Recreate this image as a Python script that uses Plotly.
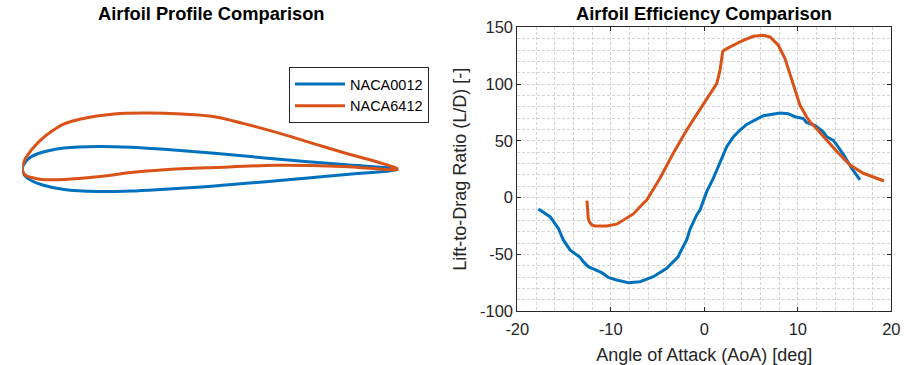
import plotly.graph_objects as go

# ---------------- data ----------------
# Airfoil profiles (chord-normalised): TE -> upper -> LE -> lower -> TE
naca0012_x = [1.0, 0.8533, 0.6757, 0.5112, 0.3779, 0.2891, 0.2, 0.1112, 0.0691, 0.0426, 0.0205, 0.0072, 0.0,
              0.0072, 0.025, 0.0516, 0.1112, 0.2, 0.2891, 0.3779, 0.5112, 0.6757, 0.8533, 1.0]
naca0012_y = [0.0, 0.0125, 0.0275, 0.0425, 0.053, 0.0585, 0.0605, 0.0565, 0.0492, 0.042, 0.0314, 0.0181, 0.0,
              -0.0173, -0.0306, -0.0412, -0.0539, -0.0592, -0.0578, -0.053, -0.0445, -0.0307, -0.0147, 0.0]

naca6412_x = [1.0, 0.9424, 0.8533, 0.7645, 0.6757, 0.5867, 0.5112, 0.4224, 0.3333, 0.2445, 0.1557, 0.1112,
              0.0691, 0.0516, 0.0338, 0.016, 0.0053, 0.0,
              0.0072, 0.025, 0.0516, 0.1112, 0.2, 0.2891, 0.3779, 0.5112, 0.6757, 0.8533, 1.0]
naca6412_y = [0.0, 0.02, 0.0448, 0.0715, 0.0981, 0.1221, 0.14, 0.1472, 0.1495, 0.1472, 0.1339, 0.1205,
              0.0945, 0.0803, 0.0625, 0.0404, 0.0226, 0.0,
              -0.0146, -0.0218, -0.0271, -0.0272, -0.02, -0.0085, -0.0013, 0.0048, 0.0105, 0.0075, 0.0]

# Lift-to-drag ratio vs angle of attack
aoa_0012 = [-17.75, -16.5, -15.61, -15.08, -14.36, -13.29, -12.94, -12.41, -10.97, -10.27, -9.37,
            -8.13, -6.88, -5.45, -4.02, -2.78, -2.6, -1.88, -1.53, -0.81, -0.46, 0.26, 0.96, 2.03,
            2.4, 3.1, 3.82, 4.53, 6.31, 8.1, 8.98, 9.7, 10.59, 10.95, 11.12, 11.66, 11.84, 12.56,
            12.73, 13.09, 13.8, 14.16, 14.87, 15.76, 16.65]
ld_0012 = [-9.9, -16.7, -26.9, -37.2, -46.0, -52.5, -56.3, -60.7, -66.0, -70.1, -72.4,
           -74.8, -73.9, -69.5, -62.1, -51.9, -48.4, -37.2, -27.8, -15.2, -10.8, 5.3, 17.0, 37.3,
           44.9, 53.5, 59.6, 64.5, 72.2, 74.5, 74.0, 71.3, 69.7, 66.0, 65.8, 64.0, 63.7, 59.0,
           57.8, 53.7, 50.5, 46.4, 38.2, 25.9, 15.6]

aoa_6412 = [-12.55, -12.41, -12.3, -12.04, -11.69, -10.8, -10.44, -9.37, -7.95, -7.59, -6.52, -6.16,
            -5.45, -4.74, -3.32, -1.88, -0.46, 0.96, 1.33, 1.68, 1.97, 2.4, 3.1, 3.64, 4.17, 5.24,
            6.31, 7.03, 7.91, 8.63, 9.17, 9.7, 10.05, 10.24, 10.95, 11.3, 11.84, 12.73, 13.09,
            14.3, 15.58, 17.01, 19.22]
ld_6412 = [-2.6, -18.1, -21.1, -24.0, -24.9, -24.9, -24.9, -23.3, -16.7, -14.3, -4.9, -2.0,
           7.5, 17.1, 39.1, 59.6, 77.7, 94.8, 100.4, 112.0, 128.8, 131.2, 134.2, 137.0, 138.6, 142.1,
           143.0, 141.5, 134.2, 122.4, 109.2, 94.5, 86.0, 81.3, 71.0, 66.9, 62.2, 53.7, 50.5,
           39.5, 28.8, 21.5, 14.7]

names = ["NACA0012", "NACA6412"]
colors = ["#0072BD", "#D95319"]

x_ticks = [-20, -10, 0, 10, 20]
x_ticktext = ["-20", "-10", "0", "10", "20"]
y_ticks = [-100, -50, 0, 50, 100, 150]
y_ticktext = ["-100", "-50", "0", "50", "100", "150"]

# ---------------- figure ----------------
W, H = 913, 365
FONT = "Liberation Sans, Arial, sans-serif"
TXT = "#262626"

fig = go.Figure()

fig.add_trace(go.Scatter(x=naca0012_x, y=naca0012_y, mode="lines", name=names[0],
                         line=dict(color=colors[0], width=3, shape="spline", smoothing=1.0),
                         xaxis="x", yaxis="y"))
fig.add_trace(go.Scatter(x=naca6412_x, y=naca6412_y, mode="lines", name=names[1],
                         line=dict(color=colors[1], width=3, shape="spline", smoothing=1.0),
                         xaxis="x", yaxis="y"))

fig.add_trace(go.Scatter(x=aoa_0012, y=ld_0012, mode="lines", name=names[0], showlegend=False,
                         line=dict(color=colors[0], width=3), xaxis="x2", yaxis="y2"))
fig.add_trace(go.Scatter(x=aoa_6412, y=ld_6412, mode="lines", name=names[1], showlegend=False,
                         line=dict(color=colors[1], width=3), xaxis="x2", yaxis="y2"))

yb = 1 - 311.3 / H
yt = 1 - 27.3 / H
half = (284.0 / 2) / 376.0

grid_c = "#d4d4d4"
grid_dash = "3px,2px"

fig.update_layout(
    width=W, height=H,
    margin=dict(l=0, r=0, t=0, b=0, autoexpand=False),
    paper_bgcolor="white", plot_bgcolor="white",
    font=dict(family=FONT, color=TXT, size=16),
    showlegend=True,
    legend=dict(x=289 / W, y=1 - 67 / H, xanchor="left", yanchor="top",
                bordercolor="#262626", borderwidth=1, bgcolor="white",
                font=dict(family=FONT, size=14.5, color="black"),
                itemwidth=50, tracegroupgap=0),
    xaxis=dict(domain=[22.3 / W, 398.3 / W], range=[0, 1], visible=False, automargin=False),
    yaxis=dict(domain=[yb, yt], range=[-half, half], visible=False, automargin=False),
    xaxis2=dict(domain=[517.3 / W, 891.3 / W], range=[-20, 20], anchor="y2", automargin=False,
                tickvals=x_ticks, ticktext=x_ticktext, ticks="inside", ticklen=4, tickcolor=TXT,
                showline=True, linecolor=TXT, linewidth=1, mirror="ticks",
                showgrid=True, gridcolor=grid_c, griddash=grid_dash, gridwidth=1,
                zeroline=False, tickfont=dict(size=16.5, color=TXT), ticklabelstandoff=3,
                minor=dict(dtick=2, showgrid=True, gridcolor=grid_c, griddash=grid_dash, ticks=""),
                title=dict(text="Angle of Attack (AoA) [deg]", font=dict(size=18, color=TXT), standoff=11)),
    yaxis2=dict(domain=[yb, yt], range=[-100, 150], anchor="x2", automargin=False,
                tickvals=y_ticks, ticktext=y_ticktext, ticks="inside", ticklen=4, tickcolor=TXT,
                showline=True, linecolor=TXT, linewidth=1, mirror="ticks",
                showgrid=True, gridcolor=grid_c, griddash=grid_dash, gridwidth=1,
                zeroline=False, tickfont=dict(size=16.5, color=TXT),
                minor=dict(dtick=10, showgrid=True, gridcolor=grid_c, griddash=grid_dash, ticks=""),
                title=dict(text="Lift-to-Drag Ratio (L/D) [-]", font=dict(size=18, color=TXT), standoff=8)),
    annotations=[
        dict(text="<b>Airfoil Profile Comparison</b>", x=211.5 / W, y=1 - 13.5 / H,
             xref="paper", yref="paper", xanchor="center", yanchor="middle", showarrow=False,
             font=dict(family=FONT, size=18.3, color="black")),
        dict(text="<b>Airfoil Efficiency Comparison</b>", x=704.3 / W, y=1 - 13.5 / H,
             xref="paper", yref="paper", xanchor="center", yanchor="middle", showarrow=False,
             font=dict(family=FONT, size=18.3, color="black")),
    ],
)

fig.write_html("out.html", config={"displayModeBar": False, "staticPlot": True},
               post_script="document.body.style.margin='0';document.body.style.overflow='hidden';")
